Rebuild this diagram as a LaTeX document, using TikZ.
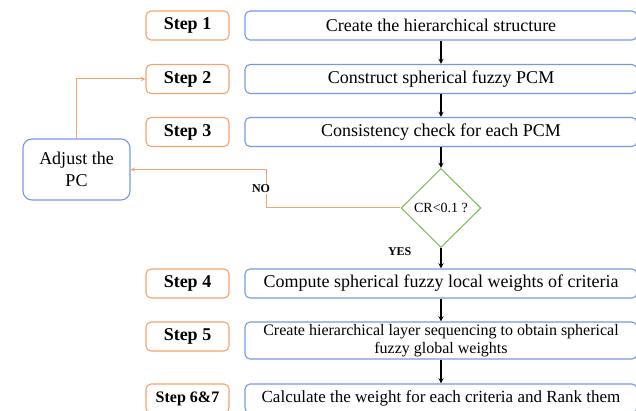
\documentclass[tikz,border=0pt]{standalone}
\usepackage{fontspec}
\setmainfont{Liberation Serif}
\usetikzlibrary{shapes.geometric, arrows}
\definecolor{steporange}{RGB}{244,163,108}
\definecolor{boxblue}{RGB}{118,152,224}
\definecolor{checkgreen}{RGB}{128,192,96}
\tikzstyle{stepbox} = [
    rectangle,
    rounded corners=5pt,
    minimum width=83pt,
    minimum height=29pt,
    line width=1.1pt,
    draw=steporange,
    font=\fontsize{18}{21}\selectfont\bfseries
]
\tikzstyle{process} = [
    rectangle,
    rounded corners=5pt,
    minimum width=392pt,
    minimum height=29pt,
    inner sep=1pt,
    line width=1.1pt,
    draw=boxblue,
    font=\fontsize{18}{21}\selectfont
]
\tikzstyle{decision} = [
    diamond,
    minimum width=80pt,
    minimum height=79pt,
    inner sep=0pt,
    line width=1.1pt,
    draw=checkgreen,
    font=\fontsize{14}{16}\selectfont
]
\tikzstyle{answer} = [font=\fontsize{12}{14}\selectfont\bfseries, inner sep=1pt]
\tikzstyle{arrow} = [line width=1.3pt,->,>=stealth]
\tikzstyle{loopback} = [line width=1pt,draw=steporange,->,>=stealth]

\begin{document}
\begin{tikzpicture}[x=1pt, y=1pt]
\useasboundingbox (0,0) rectangle (636,-411);

\node (b1) [process] at (441,-25.5) {Create the hierarchical structure};

\node (b2) [process, below of=b1, node distance=53.5pt] 
{Construct spherical fuzzy PCM};

\node (b3) [process, below of=b2, node distance=53pt] 
{Consistency check for each PCM};

\node (check) [decision, below of=b3, node distance=76pt] {CR<0.1 ?};

\node (b4) [process, below of=check, node distance=75.5pt] 
{Compute spherical fuzzy local weights of criteria};

\node (b5) [process, below of=b4, node distance=57pt, minimum height=37pt,
    align=center, font=\fontsize{16}{18}\selectfont] 
{Create hierarchical layer sequencing to obtain spherical\\fuzzy global weights};

\node (b6) [process, below of=b5, node distance=58pt, font=\fontsize{17}{20}\selectfont] 
{Calculate the weight for each criteria and Rank them};

\node (s1) [stepbox, left of=b1, node distance=253.5pt] {Step 1};
\node (s2) [stepbox, below of=s1, node distance=53.5pt] {Step 2};
\node (s3) [stepbox, below of=s2, node distance=53pt] {Step 3};
\node (s4) [stepbox, below of=s3, node distance=151.5pt] {Step 4};
\node (s5) [stepbox, below of=s4, node distance=53pt] {Step 5};
\node (s6) [stepbox, below of=s5, node distance=62pt,
    font=\fontsize{16}{19}\selectfont\bfseries] {Step 6\&7};

\node (adjust) [process, minimum width=107pt, minimum height=61pt, rounded corners=9pt,
    align=center, font=\fontsize{18}{22}\selectfont] at (76.5,-169.5) 
{Adjust the\\PC};

\coordinate (bend) at (266,0);

\draw [arrow] (b1) -- (b2);
\draw [arrow] (b2) -- (b3);
\draw [arrow] (b3) -- (check);
\draw [arrow] (check) -- node[answer, pos=0.15, left=28pt] {YES} (b4);
\draw [arrow] (b4) -- (b5);
\draw [arrow] (b5) -- (b6);

\draw [loopback] (check.west) -- (check.west -| bend) 
    |- node[answer, fill=white, pos=0.25, xshift=-5pt] {NO} (adjust.east);
\draw [loopback] (adjust.north) |- (s2.west);

\end{tikzpicture}
\end{document}
